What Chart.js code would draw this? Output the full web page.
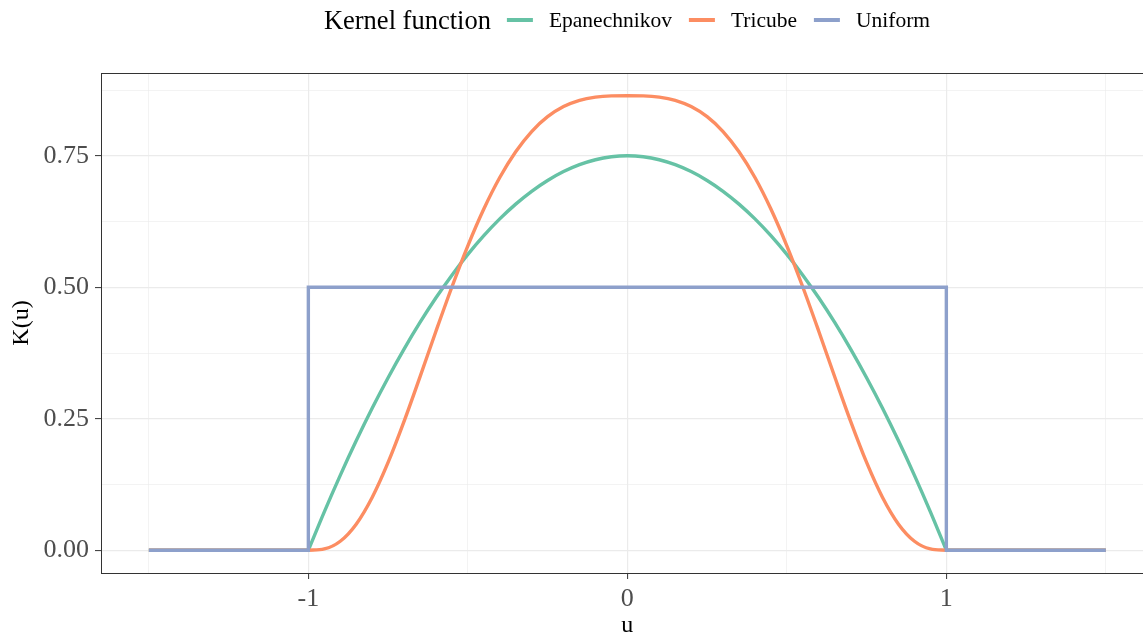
<!DOCTYPE html>
<html>
<head>
<meta charset="utf-8">
<script src="https://cdn.jsdelivr.net/npm/chart.js@4.4.0/dist/chart.umd.min.js"></script>
<style>
  html, body { margin: 0; padding: 0; background: #fff; overflow: hidden; width: 1143px; height: 635px; }
  #wrap { position: relative; width: 1143px; height: 635px; overflow: hidden; }
  #kernelChart { position: absolute; left: 0; top: 0; }
  #legend { position: absolute; top: 4px; left: 627px; transform: translateX(-50%); height: 32px;
            display: flex; align-items: center; white-space: nowrap; font-family: 'Liberation Serif', serif; color: #000; }
  #legend .title { font-size: 26.5px; margin-right: 16px; }
  #legend .key { width: 26px; height: 3.5px; margin-right: 16px; }
  #legend .lab { font-size: 21.5px; margin-right: 17px; }
  #legend .lab:last-child { margin-right: 0; }
</style>
</head>
<body>
<div id="wrap">
  <canvas id="kernelChart" width="1160" height="635"></canvas>
  <div id="legend"></div>
</div>
<script>
// kernel values
const uGrid = [-1.5, -1, -0.95, -0.9, -0.85, -0.8, -0.75, -0.7, -0.65, -0.6, -0.55, -0.5, -0.45, -0.4, -0.35, -0.3, -0.25, -0.2, -0.15, -0.1, -0.05,
  0, 0.05, 0.1, 0.15, 0.2, 0.25, 0.3, 0.35, 0.4, 0.45, 0.5, 0.55, 0.6, 0.65, 0.7, 0.75, 0.8, 0.85, 0.9, 0.95, 1, 1.5];
const epanechnikov = [0, 0, 0.0731, 0.1425, 0.2081, 0.27, 0.3281, 0.3825, 0.4331, 0.48, 0.5231, 0.5625, 0.5981, 0.63, 0.6581, 0.6825, 0.7031, 0.72, 0.7331, 0.7425, 0.7481,
  0.75, 0.7481, 0.7425, 0.7331, 0.72, 0.7031, 0.6825, 0.6581, 0.63, 0.5981, 0.5625, 0.5231, 0.48, 0.4331, 0.3825, 0.3281, 0.27, 0.2081, 0.1425, 0.0731, 0, 0];
const tricube = [0, 0, 0.0025, 0.0172, 0.0497, 0.1004, 0.167, 0.2451, 0.3298, 0.4165, 0.5006, 0.5789, 0.6488, 0.7087, 0.7577, 0.7961, 0.8243, 0.8436, 0.8555, 0.8616, 0.8639,
  0.8642, 0.8639, 0.8616, 0.8555, 0.8436, 0.8243, 0.7961, 0.7577, 0.7087, 0.6488, 0.5789, 0.5006, 0.4165, 0.3298, 0.2451, 0.167, 0.1004, 0.0497, 0.0172, 0.0025, 0, 0];
const uniformU = [-1.5, -1, -1, 1, 1, 1.5];
const uniformK = [0, 0, 0.5, 0.5, 0, 0];

const seriesNames = ['Epanechnikov', 'Tricube', 'Uniform'];
const seriesColors = ['#66C2A5', '#FC8D62', '#8DA0CB'];

const xTicks = [-1, 0, 1];
const xTickLabels = ['-1', '0', '1'];
const xMinor = [-1.5, -0.5, 0.5, 1.5];
const yTicks = [0, 0.25, 0.5, 0.75];
const yTickLabels = ['0.00', '0.25', '0.50', '0.75'];
const yMinor = [0.125, 0.375, 0.625, 0.875];

const FONT = "'Liberation Serif', serif";

function pts(xs, ys) {
  return xs.map((x, i) => ({ x: x, y: ys[i] }));
}

// the curve between -1 and 1 is drawn on its own so the spline keeps the corner at +-1;
// the flat tails are drawn as straight pieces in the same colour
const last = uGrid.length - 1;
function pieces(ys, name, color, order) {
  const base = { borderColor: color, order: order };
  return [
    Object.assign({ label: name, data: pts(uGrid.slice(1, last), ys.slice(1, last)), cubicInterpolationMode: 'monotone' }, base),
    Object.assign({ label: name + ' tail', data: pts(uGrid.slice(0, 2), ys.slice(0, 2)), tension: 0 }, base),
    Object.assign({ label: name + ' tail', data: pts(uGrid.slice(last - 1), ys.slice(last - 1)), tension: 0 }, base)
  ];
}

// legend built as html so the title can sit inline
const legend = document.getElementById('legend');
legend.innerHTML = '<span class="title">Kernel function</span>' +
  seriesNames.map((n, i) => '<span class="key" style="background:' + seriesColors[i] + '"></span><span class="lab">' + n + '</span>').join('');

function axisOpts(major, labels, minor, min, max) {
  return {
    type: 'linear',
    min: min,
    max: max,
    afterBuildTicks: (scale) => {
      scale.ticks = major.concat(minor).sort((a, b) => a - b).map(v => ({ value: v }));
    },
    ticks: {
      autoSkip: false,
      maxRotation: 0,
      color: '#4D4D4D',
      font: { family: FONT, size: 26 },
      callback: (v) => {
        const i = major.indexOf(v);
        return i >= 0 ? labels[i] : '';
      }
    },
    grid: {
      color: '#EBEBEB',
      lineWidth: (ctx) => major.includes(ctx.tick.value) ? 1.2 : 0.6,
      tickColor: (ctx) => major.includes(ctx.tick.value) ? '#333333' : 'rgba(0,0,0,0)',
      tickLength: 6,
      tickWidth: 1
    },
    border: { display: false }
  };
}

const xScale = axisOpts(xTicks, xTickLabels, xMinor, -1.65, 1.65);
xScale.ticks.padding = 5;
xScale.title = { display: true, text: 'u', color: '#000', font: { family: FONT, size: 24, lineHeight: 0.8 }, padding: { top: 0, bottom: 0 } };
xScale.afterFit = (scale) => { scale.height = 62; };

const yScale = axisOpts(yTicks, yTickLabels, yMinor, -0.0432, 0.9074);
yScale.ticks.padding = 6;
yScale.title = { display: true, text: 'K(u)', color: '#000', font: { family: FONT, size: 24, lineHeight: 1 }, padding: { top: 10, bottom: 0 } };
yScale.afterFit = (scale) => { scale.width = 101; };

const panelBorder = {
  id: 'panelBorder',
  afterDraw(chart) {
    const a = chart.chartArea;
    const c = chart.ctx;
    c.save();
    c.strokeStyle = '#333333';
    c.lineWidth = 1;
    c.strokeRect(Math.round(a.left) + 0.5, Math.round(a.top) + 0.5, Math.round(a.right - a.left), Math.round(a.bottom - a.top));
    c.restore();
  }
};

const ctx = document.getElementById('kernelChart').getContext('2d');
const kernelChart = new Chart(ctx, {
  type: 'line',
  data: {
    datasets: [
      ...pieces(epanechnikov, seriesNames[0], seriesColors[0], 3),
      ...pieces(tricube, seriesNames[1], seriesColors[1], 2),
      { label: seriesNames[2], data: pts(uniformU, uniformK), borderColor: seriesColors[2], order: 1, tension: 0 }
    ]
  },
  options: {
    responsive: false,
    animation: false,
    devicePixelRatio: 1,
    parsing: false,
    elements: {
      point: { radius: 0 },
      line: { borderWidth: 3.4, fill: false, borderCapStyle: 'butt' }
    },
    layout: { padding: { top: 73, right: 6.3, left: 0, bottom: 0 } },
    plugins: {
      legend: { display: false },
      tooltip: { enabled: false }
    },
    scales: { x: xScale, y: yScale }
  },
  plugins: [panelBorder]
});
</script>
</body>
</html>
